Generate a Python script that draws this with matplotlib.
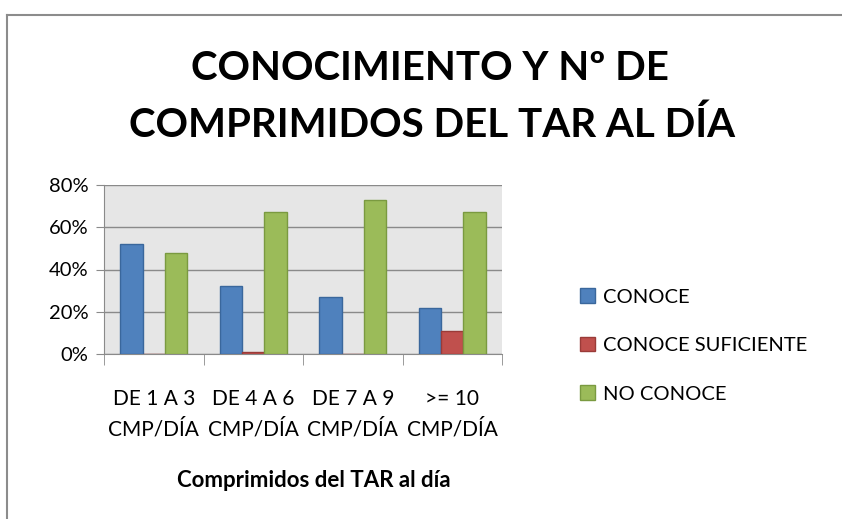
import matplotlib
matplotlib.use("Agg")
import matplotlib.pyplot as plt
from matplotlib.lines import Line2D
import numpy as np

categories = ["DE 1 A 3\nCMP/DÍA", "DE 4 A 6\nCMP/DÍA", "DE 7 A 9\nCMP/DÍA", ">= 10\nCMP/DÍA"]
series_names = ["CONOCE", "CONOCE SUFICIENTE", "NO CONOCE"]
conoce = [52, 32, 27, 22]
conoce_suf = [0, 1, 0, 11]
no_conoce = [48, 67, 73, 67]
yticks = [0, 20, 40, 60, 80]

colors = ["#4F81BD", "#C0504D", "#9BBB59"]
edges = ["#3A679C", "#9A3B38", "#7A9A40"]

plt.rcParams['font.family'] = ['Lato', 'DejaVu Sans']

W, H = 842, 519
fig = plt.figure(figsize=(W/100, H/100), dpi=100)

# outer chart frame
fig.add_artist(Line2D([7/W, 7/W], [0, 1 - 15/H], color="#8c8c8c", lw=1.5, transform=fig.transFigure))
fig.add_artist(Line2D([7/W, 1], [1 - 15/H, 1 - 15/H], color="#8c8c8c", lw=1.5, transform=fig.transFigure))

ax = fig.add_axes([104/W, 1 - 354/H, 398/W, 169/H])
ax.set_facecolor("#e6e6e6")

x = np.arange(len(categories))
bw = 0.224
data = [conoce, conoce_suf, no_conoce]
for i, (vals, c, ec, name) in enumerate(zip(data, colors, edges, series_names)):
    ax.bar(x + (i - 1) * bw, vals, width=bw, color=c, edgecolor=ec, linewidth=1, label=name, zorder=3)

ax.set_xlim(-0.5, len(categories) - 0.5)
ax.set_ylim(0, 80)
ax.set_yticks(yticks)
ax.set_yticklabels([f"{v}%" for v in yticks], fontsize=14.5)
ax.yaxis.grid(True, color="#8a8a8a", linewidth=1, zorder=0)
ax.set_axisbelow(True)

ax.set_xticks(x)
ax.set_xticklabels(categories, fontsize=15, linespacing=1.6)
ax.set_xticks(np.arange(len(categories) + 1) - 0.5, minor=True)
ax.tick_params(axis='x', which='major', length=0, pad=25)
ax.tick_params(axis='x', which='minor', length=8, color="#8a8a8a", direction='out')
ax.tick_params(axis='y', length=6, color="#8a8a8a", pad=5)

for s in ["top", "right"]:
    ax.spines[s].set_visible(False)
ax.spines["left"].set_color("#8a8a8a")
ax.spines["bottom"].set_color("#8a8a8a")

ax.set_xlabel("Comprimidos del TAR al día", fontsize=16, fontweight="bold", labelpad=22)
ax.xaxis.set_label_coords(0.528, -0.0, transform=ax.transAxes)
ax.xaxis.label.set_va("center")
ax.xaxis.label.set_position((0.528, 0))
ax.xaxis.set_label_coords(0.528, -(480 - 354) / 169)

fig.text(430/W, 1 - 68/H, "CONOCIMIENTO Y Nº DE", ha="center", va="center", fontsize=29, fontweight="bold")
fig.text(432/W, 1 - 125/H, "COMPRIMIDOS DEL TAR AL DÍA", ha="center", va="center", fontsize=29, fontweight="bold")

leg = fig.legend(loc="upper left", bbox_to_anchor=(562/W, 1 - 270/H), frameon=False, fontsize=14.5,
                 handlelength=0.75, handleheight=0.75, handletextpad=0.4, labelspacing=1.55)

fig.savefig("out.png", dpi=100)
